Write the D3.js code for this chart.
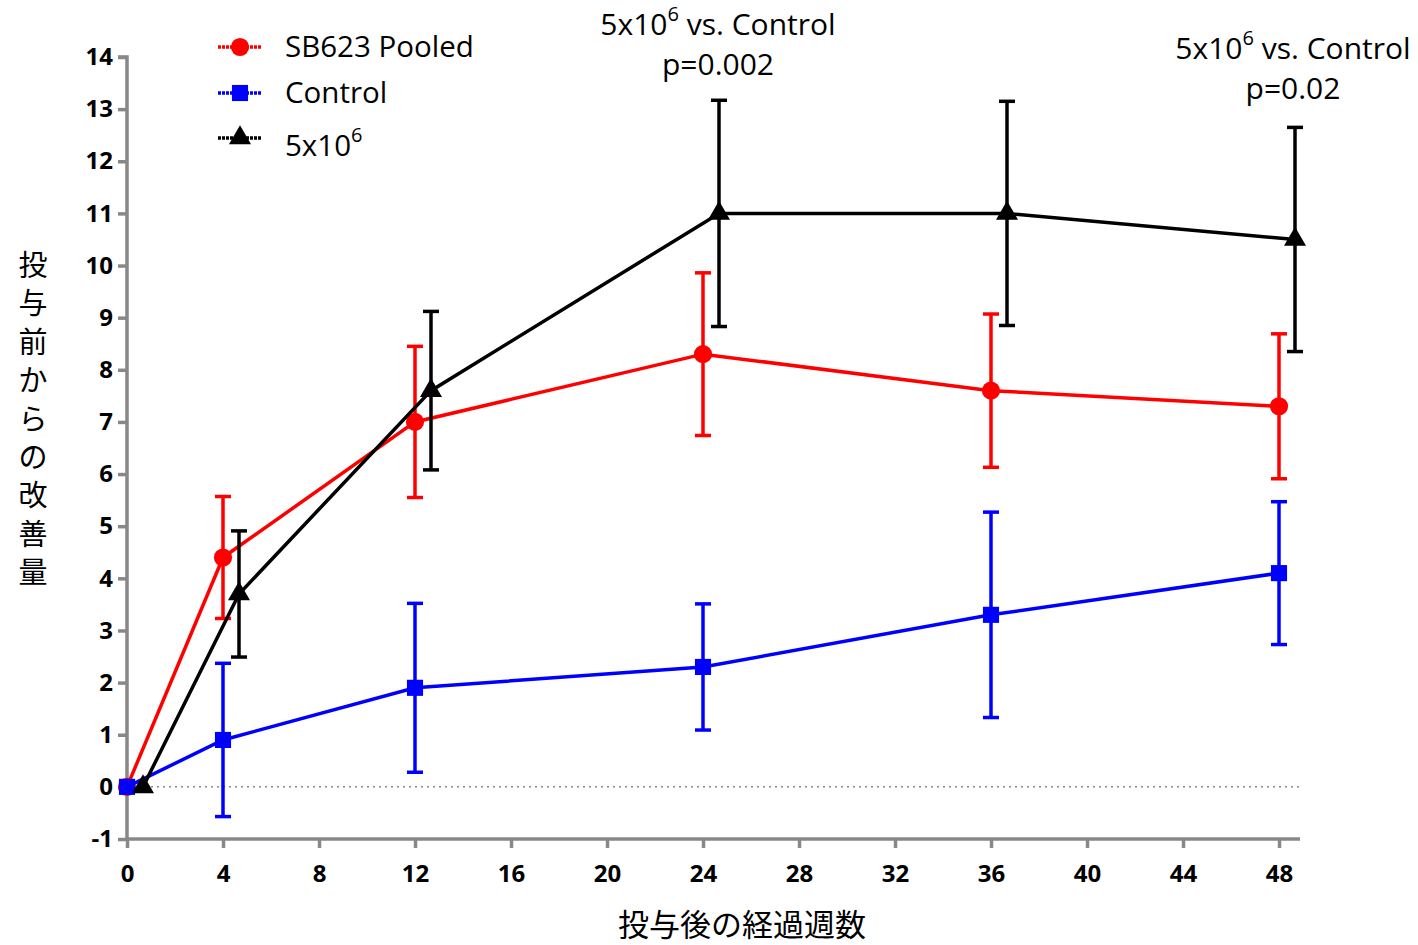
<!DOCTYPE html>
<meta charset="utf-8">
<body style="margin:0;background:#fff">
<script src="https://cdn.jsdelivr.net/npm/d3@7"></script>
<script>

    var width = 1418,
        height = 945;

    var weeks = [0, 4, 12, 24, 36, 48];
    var pooledMean = [0, 4.4, 7.0, 8.3, 7.6, 7.3];
    var pooledErr  = [0, 1.17, 1.45, 1.56, 1.47, 1.39];
    var controlMean = [0, 0.9, 1.9, 2.3, 3.3, 4.1];
    var controlErr  = [0, 1.47, 1.62, 1.21, 1.97, 1.37];
    var doseMean = [0, 3.7, 7.6, 11.0, 11.0, 10.5];
    var doseErr  = [0, 1.21, 1.52, 2.17, 2.15, 2.15];
    var xTicks = [0, 4, 8, 12, 16, 20, 24, 28, 32, 36, 40, 44, 48];
    var yTicks = [-1, 0, 1, 2, 3, 4, 5, 6, 7, 8, 9, 10, 11, 12, 13, 14];
    var yLabel = "投与前からの改善量";
    var xLabel = "投与後の経過週数";

    var series = [
        {name: "SB623 Pooled", mean: pooledMean, err: pooledErr, color: "#ff0000", shape: d3.symbolCircle, dx: 0},
        {name: "Control", mean: controlMean, err: controlErr, color: "#0000ff", shape: d3.symbolSquare, dx: 0},
        {name: "5x10", sup: "6", mean: doseMean, err: doseErr, color: "#000000", shape: d3.symbolTriangle, dx: 16}
    ];

    var x = d3.scaleLinear().domain([0, 48]).range([127, 1279]);
    var y = d3.scaleLinear().domain([-1, 14]).range([839, 57]);

    var svg = d3.select("body").append("svg")
            .attr("width", width)
            .attr("height", height)
            .style("font-family", "'Open Sans', Lato, sans-serif");

    // zero reference line
    svg.append("line")
        .attr("x1", x(0)).attr("x2", 1300)
        .attr("y1", y(0)).attr("y2", y(0))
        .attr("stroke", "#888").attr("stroke-width", 1.5)
        .attr("stroke-dasharray", "2,4");

    // axes
    var axisColor = "#888";
    var fmt = function(d) { return String(d); };
    var xAxis = svg.append("g").attr("transform", "translate(0," + y(-1) + ")")
        .call(d3.axisBottom(x).tickValues(xTicks).tickFormat(fmt).tickSize(9).tickPadding(17));
    xAxis.select(".domain").attr("d", "M" + x(0) + ",0H1300");
    var yAxis = svg.append("g").attr("transform", "translate(" + x(0) + ",0)")
        .call(d3.axisLeft(y).tickValues(yTicks).tickFormat(fmt).tickSize(9).tickPadding(5));
    yAxis.select(".domain").attr("d", "M0," + y(-1) + "V" + y(14) + "H-9");
    [xAxis, yAxis].forEach(function(a) {
        a.select(".domain").attr("stroke", axisColor).attr("stroke-width", 3.5).attr("fill", "none");
        a.selectAll(".tick line").attr("stroke", axisColor).attr("stroke-width", 3.5);
        a.selectAll(".tick text").attr("fill", "#000")
            .style("font-size", "24px").style("font-weight", "bold")
            .style("font-family", "'Open Sans', Lato, sans-serif");
    });

    // series
    var line = d3.line();
    function markSize(shape) { return shape === d3.symbolTriangle ? 210 : 260; }
    series.forEach(function(s) {
        var g = svg.append("g");
        var pts = weeks.map(function(w, i) {
            return [x(w) + s.dx, y(s.mean[i]), s.mean[i], s.err[i]];
        });
        pts.forEach(function(p) {
            if (!p[3]) return;
            var top = y(p[2] + p[3]), bot = y(p[2] - p[3]);
            g.append("line").attr("x1", p[0]).attr("x2", p[0]).attr("y1", top).attr("y2", bot)
                .attr("stroke", s.color).attr("stroke-width", 3.5);
            [top, bot].forEach(function(yy) {
                g.append("line").attr("x1", p[0] - 8).attr("x2", p[0] + 8).attr("y1", yy).attr("y2", yy)
                    .attr("stroke", s.color).attr("stroke-width", 3.5);
            });
        });
        g.append("path").attr("d", line(pts.map(function(p) { return [p[0], p[1]]; })))
            .attr("fill", "none").attr("stroke", s.color).attr("stroke-width", 3.5);
        g.selectAll(".m").data(pts).enter().append("path")
            .attr("transform", function(p) { return "translate(" + p[0] + "," + p[1] + ")"; })
            .attr("d", d3.symbol().type(s.shape).size(markSize(s.shape)))
            .attr("fill", s.color);
    });

    // legend
    var legY = [47, 93, 138];
    var legTextDy = [10, 10, 18];
    series.forEach(function(s, i) {
        var lg = svg.append("g").attr("transform", "translate(0," + legY[i] + ")");
        lg.append("line").attr("x1", 218).attr("x2", 262)
            .attr("stroke", s.color).attr("stroke-width", 3.5).attr("stroke-dasharray", "3,1");
        lg.append("path").attr("transform", "translate(240,0)")
            .attr("d", d3.symbol().type(s.shape).size(markSize(s.shape)))
            .attr("fill", s.color);
        var t = lg.append("text").attr("x", 285).attr("y", legTextDy[i]).style("font-size", "29.5px").text(s.name);
        if (s.sup) t.append("tspan").attr("dy", -14).style("font-size", "20px").text(s.sup);
    });

    // annotations
    function annot(cx, cy, p) {
        var t = svg.append("text").attr("x", cx).attr("y", cy).attr("text-anchor", "middle")
            .style("font-size", "30px");
        t.append("tspan").text("5x10");
        t.append("tspan").attr("dy", -14).style("font-size", "20px").text("6");
        t.append("tspan").attr("dy", 14).text(" vs. Control");
        svg.append("text").attr("x", cx).attr("y", cy + 40).attr("text-anchor", "middle")
            .style("font-size", "30px").text(p);
    }
    annot(718, 35, "p=0.002");
    annot(1293, 59, "p=0.02");

    // axis titles: vertical label, one character per text element
    svg.append("g").selectAll("text").data(yLabel.split("")).enter().append("text")
        .attr("x", 33).attr("y", function(c, i) { return 276 + i * 38.4; })
        .attr("text-anchor", "middle")
        .style("font-family", "'Noto Sans CJK JP', sans-serif").style("font-size", "29px")
        .text(function(c) { return c; });
    svg.append("text").attr("x", 742).attr("y", 936).attr("text-anchor", "middle")
        .style("font-family", "'Noto Sans CJK JP', sans-serif").style("font-size", "31px")
        .text(xLabel);

</script>
